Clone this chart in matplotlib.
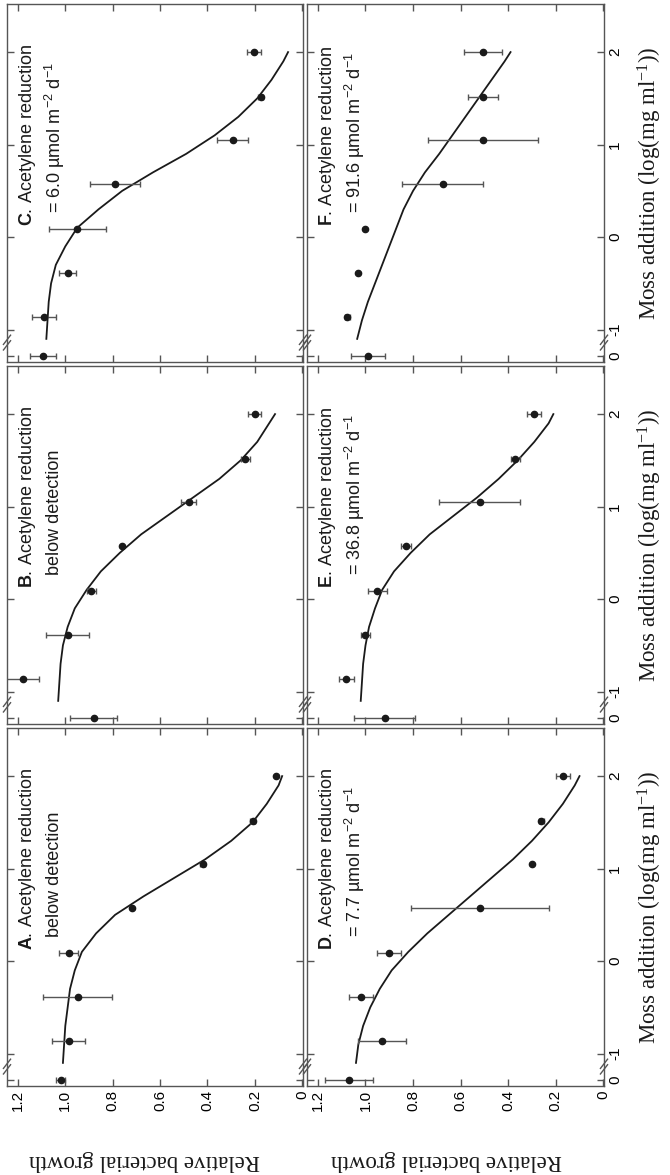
import numpy as np
import matplotlib
matplotlib.use("Agg")
import matplotlib.pyplot as plt
import matplotlib.transforms as mtransforms

# moss addition, log(mg ml-1); the control sits left of the axis break
moss = [-1.28, -0.86, -0.39, 0.09, 0.57, 1.05, 1.52, 2.0]
moss_ticks = [-1.28, -1, 0, 1, 2]
moss_tick_labels = ["0", "-1", "0", "1", "2"]
growth_ticks = [0, 0.2, 0.4, 0.6, 0.8, 1.0, 1.2]
growth_tick_labels = ["0", "0.2", "0.4", "0.6", "0.8", "1.0", "1.2"]

# relative bacterial growth and its error, per panel
growth_a = [1.02, 0.985, 0.947, 0.985, 0.72, 0.42, 0.21, 0.11]
err_a = [0.02, 0.07, 0.145, 0.04, 0.0, 0.01, 0.01, 0.0]
growth_b = [0.88, 1.18, 0.99, 0.89, 0.76, 0.48, 0.24, 0.20]
err_b = [0.10, 0.07, 0.09, 0.02, 0.0, 0.03, 0.02, 0.027]
growth_c = [1.095, 1.09, 0.99, 0.95, 0.79, 0.293, 0.175, 0.204]
err_c = [0.055, 0.05, 0.035, 0.12, 0.107, 0.065, 0.01, 0.03]
growth_d = [1.07, 0.93, 1.02, 0.90, 0.52, 0.30, 0.26, 0.17]
err_d = [0.10, 0.10, 0.05, 0.05, 0.29, 0.0, 0.01, 0.03]
growth_e = [0.92, 1.08, 1.00, 0.95, 0.83, 0.52, 0.37, 0.29]
err_e = [0.13, 0.03, 0.02, 0.04, 0.02, 0.17, 0.02, 0.03]
growth_f = [0.99, 1.076, 1.033, 1.00, 0.675, 0.506, 0.506, 0.506]
err_f = [0.07, 0.01, 0.0, 0.0, 0.17, 0.23, 0.063, 0.078]

# fitted curves
curve_moss = [-1.1, -0.9, -0.7, -0.5, -0.3, -0.1, 0.1, 0.3, 0.5, 0.7, 0.9,
              1.1, 1.3, 1.5, 1.7, 1.9, 2.0]
curve_a = [1.01, 1.005, 1.0, 0.99, 0.98, 0.96, 0.93, 0.87, 0.79, 0.67, 0.54,
           0.41, 0.30, 0.21, 0.15, 0.10, 0.085]
curve_b = [1.03, 1.025, 1.02, 1.01, 0.99, 0.96, 0.91, 0.85, 0.77, 0.68, 0.57,
           0.46, 0.35, 0.26, 0.19, 0.14, 0.115]
curve_c = [1.08, 1.075, 1.07, 1.06, 1.04, 1.0, 0.95, 0.86, 0.76, 0.63, 0.49,
           0.37, 0.27, 0.19, 0.13, 0.08, 0.06]
curve_d = [1.04, 1.03, 1.01, 0.98, 0.94, 0.89, 0.82, 0.74, 0.65, 0.56, 0.47,
           0.38, 0.30, 0.23, 0.17, 0.12, 0.10]
curve_e = [1.02, 1.015, 1.01, 1.0, 0.985, 0.96, 0.93, 0.88, 0.81, 0.73, 0.63,
           0.53, 0.44, 0.36, 0.29, 0.23, 0.21]
curve_f = [1.035, 1.015, 0.99, 0.96, 0.93, 0.90, 0.87, 0.84, 0.80, 0.75, 0.69,
           0.635, 0.58, 0.525, 0.47, 0.415, 0.39]

panel_letters = ["A", "B", "C", "D", "E", "F"]
panel_second = ["below detection", "below detection",
                r"= 6.0 µmol m$\mathregular{^{-2}}$ d$\mathregular{^{-1}}$",
                r"= 7.7 µmol m$\mathregular{^{-2}}$ d$\mathregular{^{-1}}$",
                r"= 36.8 µmol m$\mathregular{^{-2}}$ d$\mathregular{^{-1}}$",
                r"= 91.6 µmol m$\mathregular{^{-2}}$ d$\mathregular{^{-1}}$"]

SANS = "Liberation Sans"
SERIF = "Liberation Serif"
INK = "#1a1a1a"
EDGE = "#555555"

plt.rcParams["font.family"] = SANS
plt.rcParams["mathtext.fontset"] = "custom"
plt.rcParams["mathtext.rm"] = SANS
plt.rcParams["mathtext.bf"] = SANS + ":bold"

fig = plt.figure(figsize=(6.7, 11.75), dpi=100)

# the figure is laid out turned a quarter turn: growth runs across, moss runs up
col_left = [7 / 670, 307 / 670]
col_width = [296 / 670, 297 / 670]
row_bottom = [89 / 1175, 451 / 1175, 813 / 1175]
row_height = 358 / 1175

panels = [
    (0, 0, growth_a, err_a, curve_a),
    (0, 1, growth_b, err_b, curve_b),
    (0, 2, growth_c, err_c, curve_c),
    (1, 0, growth_d, err_d, curve_d),
    (1, 1, growth_e, err_e, curve_e),
    (1, 2, growth_f, err_f, curve_f),
]

for i, (col, row, g, e, curve) in enumerate(panels):
    ax = fig.add_axes([col_left[col], row_bottom[row], col_width[col], row_height])
    ax.plot(curve, curve_moss, color=INK, lw=1.3, zorder=2,
            solid_joinstyle="round")
    ax.errorbar(g, moss, xerr=e, fmt="o", ms=4.5, color=INK, ecolor=EDGE,
                elinewidth=1.0, capsize=2.5, capthick=1.0, zorder=3)

    ax.set_xlim(1.246, -0.003)
    ax.set_ylim(-1.35, 2.52)
    ax.set_xticks(growth_ticks)
    ax.set_yticks(moss_ticks)
    ax.tick_params(direction="in", length=5, width=1.0, color=EDGE,
                   top=True, bottom=True, left=True, right=True,
                   labelleft=False, labeltop=False,
                   labelbottom=(row == 0), labelright=(col == 1),
                   labelsize=11, pad=3)
    if row == 0:
        ax.set_xticklabels(growth_tick_labels, rotation=90, va="top")
    else:
        ax.set_xticklabels([])
    if col == 1:
        ax.set_yticklabels(moss_tick_labels, rotation=90, va="center")
    else:
        ax.set_yticklabels([])
    for sp in ax.spines.values():
        sp.set_color(EDGE)
        sp.set_linewidth(1.0)

    # axis break on the moss axis, both edges
    tr = mtransforms.blended_transform_factory(ax.transAxes, ax.transData)
    for xa in (0.0, 1.0):
        for yb in (-1.17, -1.11):
            ax.plot([xa - 0.012, xa + 0.012], [yb - 0.05, yb + 0.05], transform=tr,
                    color=EDGE, lw=1.0, clip_on=False, zorder=4)

    ax.text(1.16, 0.12, r"$\mathbf{%s}$. Acetylene reduction" % panel_letters[i],
            rotation=90, ha="center", va="bottom", fontsize=13, color=INK)
    ax.text(1.045, 0.26, panel_second[i], rotation=90, ha="center", va="bottom",
            fontsize=13, color=INK)

# axis titles, turned with the figure
for xc in (144 / 670, 446 / 670):
    fig.text(xc, 15 / 1175, "Relative bacterial growth", rotation=180,
             ha="center", va="center", family=SERIF, fontsize=16.5, color=INK)
for yc in (183 / 1175, 545 / 1175, 907 / 1175):
    fig.text(650 / 670, 1 - yc, r"Moss addition (log(mg ml$\mathregular{^{-1}}$))",
             rotation=90, ha="center", va="center", family=SERIF, fontsize=16.5,
             color=INK)

fig.savefig("out.png", dpi=100)
